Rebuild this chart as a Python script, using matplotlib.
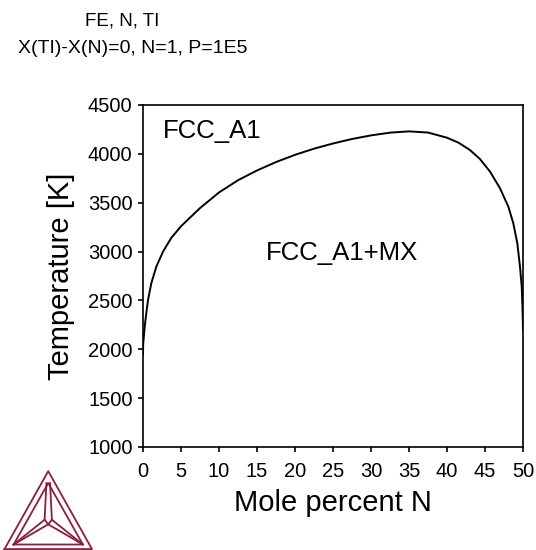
import numpy as np
import matplotlib.pyplot as plt

plt.rcParams['font.family'] = ['Liberation Sans', 'DejaVu Sans']

# FCC_A1 / FCC_A1+MX boundary
mole_pct_n = [0.0, 0.02, 0.22, 0.43, 0.66, 1.09, 1.75, 2.63, 3.72, 5.04, 7.5,
              10.0, 12.5, 15.0, 17.5, 20.0, 22.5, 25.0, 27.5, 30.0, 32.5, 35.0,
              37.5, 40.0, 41.5, 43.0, 44.3, 45.66, 46.97, 48.07, 48.72, 49.25,
              49.6, 49.83, 49.92, 49.97, 50.0]
temperature = [1950, 2050, 2231, 2368, 2504, 2675, 2845, 2999, 3140, 3262, 3445,
               3605, 3730, 3830, 3916, 3990, 4053, 4106, 4152, 4189, 4217, 4230,
               4218, 4165, 4115, 4040, 3950, 3818, 3648, 3459, 3289, 3085,
               2845, 2640, 2436, 2300, 2200]

x_ticks = [0, 5, 10, 15, 20, 25, 30, 35, 40, 45, 50]
y_ticks = [1000, 1500, 2000, 2500, 3000, 3500, 4000, 4500]

fig = plt.figure(figsize=(5.36, 5.50), dpi=100)
ax = fig.add_axes([0.2668, 0.1873, 0.709, 0.6218])

ax.plot(mole_pct_n, temperature, color='black', lw=1.4)

ax.set_xlim(0, 50)
ax.set_ylim(1000, 4500)
ax.set_xticks(x_ticks)
ax.set_yticks(y_ticks)
ax.tick_params(direction='out', length=3.5, width=1.2, labelsize=14.5,
               top=False, right=False)
ax.tick_params(axis='x', pad=7)
ax.tick_params(axis='y', pad=4)
for s in ax.spines.values():
    s.set_linewidth(1.2)

ax.set_xlabel('Mole percent N', fontsize=21, labelpad=6)
ax.set_ylabel('Temperature [K]', fontsize=21, labelpad=9)

ax.text(2.6, 4160, 'FCC_A1', fontsize=18.5, va='baseline')
ax.text(16.2, 2910, 'FCC_A1+MX', fontsize=18.5, va='baseline')

fig.text(122 / 536, 1 - 26 / 550, 'FE, N, TI', fontsize=13.5, ha='center',
         va='baseline')
fig.text(133 / 536, 1 - 53 / 550, 'X(TI)-X(N)=0, N=1, P=1E5', fontsize=14,
         ha='center', va='baseline')

# Thermo-Calc style logo, bottom left
logo = fig.add_axes([0.005, 0.0, 0.17, 0.145])
logo.set_xlim(0, 100)
logo.set_ylim(0, 87)
logo.axis('off')
c = '#8c1d40'
lw = 1.3
outer = np.array([[2, 1], [50, 86], [98, 1], [2, 1]])
inner = np.array([[12, 6], [50, 73], [88, 6], [12, 6]])
logo.plot(outer[:, 0], outer[:, 1], color=c, lw=lw)
logo.plot(inner[:, 0], inner[:, 1], color=c, lw=lw)
cx, cy = 50, 28
for px, py in [(12, 6), (88, 6)]:
    logo.plot([px, cx], [py, cy], color=c, lw=lw)
logo.plot([48, 46, 50, 54, 52], [73, 33, 28, 33, 73], color=c, lw=lw)
logo.plot([46, 12], [33, 6], color=c, lw=lw)
logo.plot([54, 88], [33, 6], color=c, lw=lw)

fig.savefig('out.png', dpi=100)
